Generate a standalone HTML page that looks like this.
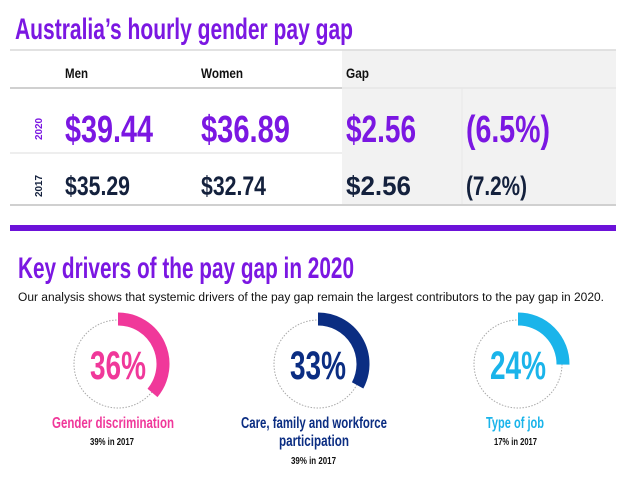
<!DOCTYPE html>
<html><head><meta charset="utf-8"><style>
html,body{margin:0;padding:0;background:#fff;}
svg{display:block}
text{font-family:"Liberation Sans Narrow","Liberation Sans",sans-serif;font-weight:bold}
</style></head><body>
<svg width="628" height="480" viewBox="0 0 628 480" xmlns="http://www.w3.org/2000/svg">
<!-- title -->
<text x="15" y="39" font-size="30" fill="#7b17e2" textLength="338" lengthAdjust="spacingAndGlyphs">Australia’s hourly gender pay gap</text>
<!-- table -->
<rect x="342" y="50" width="274" height="155" fill="#f2f2f2"/>
<line x1="10" y1="50" x2="616" y2="50" stroke="#d9d9d9" stroke-width="1.5"/>
<line x1="10" y1="88" x2="342" y2="88" stroke="#d0d0d0" stroke-width="2"/>
<line x1="342" y1="88" x2="616" y2="88" stroke="#e0e0e0" stroke-width="1"/>
<line x1="10" y1="153" x2="342" y2="153" stroke="#dcdcdc" stroke-width="1"/>
<line x1="462" y1="88" x2="462" y2="205" stroke="#e8e8e8" stroke-width="1"/>
<line x1="10" y1="205" x2="616" y2="205" stroke="#d0d0d0" stroke-width="2"/>
<text x="65" y="78" font-size="14" fill="#111" textLength="23" lengthAdjust="spacingAndGlyphs">Men</text>
<text x="201" y="78" font-size="14" fill="#111" textLength="42" lengthAdjust="spacingAndGlyphs">Women</text>
<text x="346" y="78" font-size="14" fill="#111" textLength="23" lengthAdjust="spacingAndGlyphs">Gap</text>
<text transform="translate(42,140) rotate(-90)" font-size="10" fill="#7b17e2" textLength="22" lengthAdjust="spacingAndGlyphs">2020</text>
<text transform="translate(42,197) rotate(-90)" font-size="10" fill="#14213d" textLength="22" lengthAdjust="spacingAndGlyphs">2017</text>
<g font-size="38" fill="#7b17e2">
<text x="65" y="142" textLength="88" lengthAdjust="spacingAndGlyphs">$39.44</text>
<text x="201" y="142" textLength="89" lengthAdjust="spacingAndGlyphs">$36.89</text>
<text x="346" y="142" textLength="70" lengthAdjust="spacingAndGlyphs">$2.56</text>
<text x="466" y="142" textLength="84" lengthAdjust="spacingAndGlyphs">(6.5%)</text>
</g>
<g font-size="27" fill="#14213d">
<text x="65" y="195" textLength="65" lengthAdjust="spacingAndGlyphs">$35.29</text>
<text x="201" y="195" textLength="65" lengthAdjust="spacingAndGlyphs">$32.74</text>
<text x="346" y="195" textLength="65" lengthAdjust="spacingAndGlyphs">$2.56</text>
<text x="466" y="195" textLength="61" lengthAdjust="spacingAndGlyphs">(7.2%)</text>
</g>
<rect x="10" y="225" width="606" height="6" fill="#6c12d9"/>
<!-- section 2 -->
<text x="18" y="278" font-size="30" fill="#7b17e2" textLength="336" lengthAdjust="spacingAndGlyphs">Key drivers of the pay gap in 2020</text>
<text x="18" y="301" font-size="11.5" fill="#111" style="font-family:'Liberation Sans',sans-serif;font-weight:normal" textLength="586" lengthAdjust="spacingAndGlyphs">Our analysis shows that systemic drivers of the pay gap remain the largest contributors to the pay gap in 2020.</text>
<!-- circles -->
<g fill="none" stroke="#aaa" stroke-width="1" stroke-dasharray="1.5 1.5">
<circle cx="118" cy="364" r="44"/><circle cx="318" cy="364" r="44"/><circle cx="518" cy="364" r="44"/>
</g>
<!-- arcs r=45 width 12 -->
<path d="M118 319 A45 45 0 0 1 152.5 392.9" fill="none" stroke="#f0389a" stroke-width="13"/>
<path d="M318 319 A45 45 0 0 1 357.6 385.4" fill="none" stroke="#0b2d82" stroke-width="13"/>
<path d="M518 319 A45 45 0 0 1 563 364.6" fill="none" stroke="#1ab4ea" stroke-width="13"/>
<text x="118" y="379" font-size="40" fill="#f0389a" text-anchor="middle" textLength="56" lengthAdjust="spacingAndGlyphs">36%</text>
<text x="318" y="379" font-size="40" fill="#0b2d82" text-anchor="middle" textLength="56" lengthAdjust="spacingAndGlyphs">33%</text>
<text x="518" y="379" font-size="40" fill="#1ab4ea" text-anchor="middle" textLength="56" lengthAdjust="spacingAndGlyphs">24%</text>
<text x="52" y="428" font-size="16" fill="#f0389a" textLength="122" lengthAdjust="spacingAndGlyphs">Gender discrimination</text>
<text x="90" y="445" font-size="10.5" fill="#111" textLength="44" lengthAdjust="spacingAndGlyphs">39% in 2017</text>
<text x="241" y="428" font-size="16" fill="#0b2d82" textLength="146" lengthAdjust="spacingAndGlyphs">Care, family and workforce</text>
<text x="279" y="446" font-size="16" fill="#0b2d82" textLength="70" lengthAdjust="spacingAndGlyphs">participation</text>
<text x="291" y="464" font-size="10.5" fill="#111" textLength="45" lengthAdjust="spacingAndGlyphs">39% in 2017</text>
<text x="486" y="428" font-size="16" fill="#1ab4ea" textLength="58" lengthAdjust="spacingAndGlyphs">Type of job</text>
<text x="494" y="445" font-size="10.5" fill="#111" textLength="43" lengthAdjust="spacingAndGlyphs">17% in 2017</text>
</svg>
</body></html>
